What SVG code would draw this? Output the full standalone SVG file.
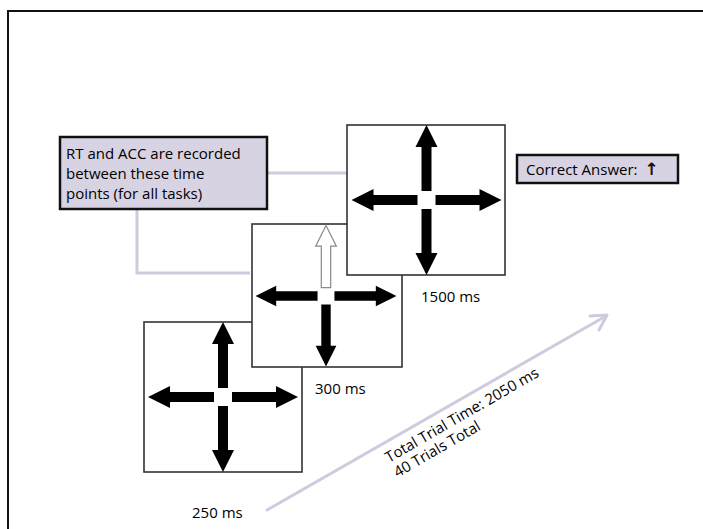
<svg xmlns="http://www.w3.org/2000/svg" xmlns:xlink="http://www.w3.org/1999/xlink" width="703" height="529" viewBox="0 0 703 529">
<style>
text{font-family:"Open Sans","Liberation Sans",sans-serif;fill:#000;font-size:15px}
.frame{fill:#fff;stroke:#333;stroke-width:1.6}
.note{fill:#d8d3e3;stroke:#111;stroke-width:2.5}
.arr{fill:#000}
.hollow{fill:#fff;stroke:#8a8a8a;stroke-width:1.3}
.conn{fill:none;stroke:#cfcade;stroke-width:3}
</style>
<defs>
<path id="ar" d="M-5,-9 L-5,-53 L-11,-53 L0,-75 L11,-53 L5,-53 L5,-9 Z"/>
</defs>
<rect x="8" y="11" width="720" height="540" fill="#fff" stroke="#111" stroke-width="2"/>
<g id="connectors">
<path class="conn" d="M267,173 L347,173"/>
<path class="conn" d="M137,209 L137,273 L250,273"/>
<path class="conn" d="M267,510 L606,316" stroke-width="4" stroke-linecap="round"/>
<path class="conn" d="M590,316 L607,315 L599,330" stroke-width="4" stroke-linecap="round" stroke-linejoin="round"/>
</g>
<g id="frame3">
<rect class="frame" x="144" y="322" width="158" height="150"/>
<g class="arr" transform="translate(223,397)">
<use xlink:href="#ar"/><use xlink:href="#ar" transform="rotate(90)"/><use xlink:href="#ar" transform="rotate(180)"/><use xlink:href="#ar" transform="rotate(270)"/>
</g>
</g>
<g id="frame2">
<rect class="frame" x="252" y="224" width="150" height="143"/>
<g transform="translate(326,296) scale(0.94)">
<use class="hollow" xlink:href="#ar"/><use class="arr" xlink:href="#ar" transform="rotate(90)"/><use class="arr" xlink:href="#ar" transform="rotate(180)"/><use class="arr" xlink:href="#ar" transform="rotate(270)"/>
</g>
</g>
<g id="frame1">
<rect class="frame" x="347" y="125" width="158" height="150"/>
<g class="arr" transform="translate(426.5,200)">
<use xlink:href="#ar"/><use xlink:href="#ar" transform="rotate(90)"/><use xlink:href="#ar" transform="rotate(180)"/><use xlink:href="#ar" transform="rotate(270)"/>
</g>
</g>
<g id="note">
<rect class="note" x="60" y="137" width="207" height="72"/>
<text x="66" y="159">RT and ACC are recorded</text>
<text x="66" y="179">between these time</text>
<text x="66" y="199">points (for all tasks)</text>
</g>
<g id="answer">
<rect class="note" x="517" y="155" width="161" height="28"/>
<text x="526" y="175">Correct Answer: <tspan font-family="DejaVu Sans,sans-serif" font-weight="bold" font-size="17" fill="#2a0808" dx="3">↑</tspan></text>
</g>
<g id="labels">
<text x="421" y="302">1500 ms</text>
<text x="315" y="394">300 ms</text>
<text x="192" y="518">250 ms</text>
<g transform="translate(389,463) rotate(-30)">
<text x="0" y="0" font-size="15">Total Trial Time: 2050 ms</text>
<text x="0" y="17" font-size="15">40 Trials Total</text>
</g>
</g>
</svg>
